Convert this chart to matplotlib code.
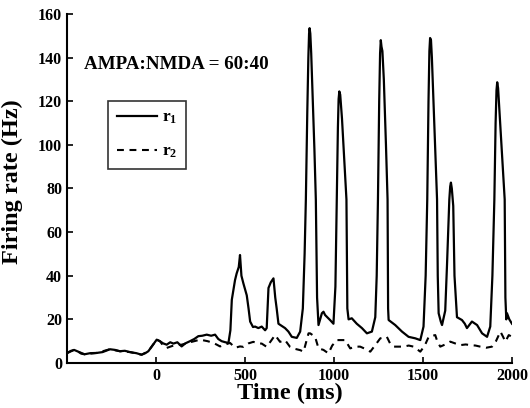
import matplotlib
matplotlib.use("Agg")
import matplotlib.pyplot as plt

plt.rcParams["font.family"] = ["Liberation Serif", "DejaVu Serif"]
plt.rcParams["font.weight"] = "bold"
plt.rcParams["mathtext.fontset"] = "custom"
plt.rcParams["mathtext.rm"] = "Liberation Serif:bold"
plt.rcParams["mathtext.it"] = "Liberation Serif:bold"
plt.rcParams["mathtext.bf"] = "Liberation Serif:bold"

# population 1 firing rate (ms, Hz)
t1 = [-500, -480, -460, -437, -420, -401, -370, -334, -300, -259, -230, -203,
      -175, -146, -110, -81, -60, -43, -20, 4, 22, 40, 60, 80, 98, 120, 144,
      165, 191, 215, 238, 260, 285, 310, 332, 350, 369, 390, 407, 418, 426,
      444, 453, 465, 472, 480, 491, 510, 520, 529, 545, 557, 575, 594, 613,
      622, 632, 645, 660, 670, 678, 688, 707, 725, 744, 763, 791, 810, 825,
      835, 842, 850, 856, 860, 863, 867, 872, 880, 890, 898, 905, 913, 932,
      941, 950, 978, 997, 1008, 1016, 1022, 1026, 1030, 1035, 1045, 1060,
      1070, 1075, 1082, 1100, 1128, 1157, 1185, 1213, 1232, 1240, 1247, 1254,
      1259, 1263, 1267, 1272, 1280, 1292, 1301, 1304, 1307, 1344, 1382, 1419,
      1457, 1485, 1503, 1515, 1524, 1531, 1536, 1540, 1545, 1550, 1560, 1570,
      1579, 1583, 1588, 1600, 1607, 1625, 1635, 1648, 1653, 1657, 1662, 1670,
      1677, 1691, 1719, 1735, 1747, 1775, 1804, 1832, 1860, 1878, 1890, 1901,
      1908, 1913, 1917, 1922, 1930, 1945, 1959, 1963, 1968, 1972, 1985, 2000]
r1 = [4.5, 5.5, 6, 5.2, 4.3, 4, 4.5, 4.6, 5, 6.3, 6, 5.4,
      5.6, 5.0, 4.5, 3.8, 4.5, 5.4, 8, 10.7, 10, 9, 8.4, 9.5, 8.9, 9.5, 7.6,
      9, 10, 11, 12.3, 12.5, 13, 12.5, 13, 11, 10, 9.5, 9.2, 15, 29,
      38, 41, 44, 49.5, 40, 36.5, 31, 25, 19, 16.5, 16.7, 16, 16.7, 15,
      16, 34.4, 37, 38.8, 30, 25, 18, 17, 16, 14.4, 12, 11.5, 14.4, 25,
      50, 75, 115, 140, 151, 153.5, 151, 142, 122, 98, 75, 30, 17.4, 22.8,
      23.5, 22, 19.7, 18, 35, 75, 108, 121, 124.5, 123, 112, 90,
      75, 25, 20, 20.5, 18, 16, 13.6, 14.4, 21, 40, 75, 120,
      142, 148, 145, 143, 130, 100, 75, 25, 19.7, 17.4, 14.4, 12,
      11.3, 10.5, 16.7, 40, 75, 120, 143, 149, 148, 140, 118, 95,
      75, 40, 22.8, 19, 17.4, 24, 45, 75, 81, 82.7, 80, 72,
      40, 21, 19.7, 18, 16, 19, 17.4, 13.6, 12, 16.7, 40, 75,
      110, 125, 128.7, 126, 115, 95, 75, 30, 20, 22.8, 20, 18]

# population 2 firing rate (ms, Hz)
t2 = [-500, -460, -401, -334, -259, -203, -146, -81, -43, 4, 22, 40, 60, 98,
      144, 191, 248, 290, 323, 360, 390, 416, 445, 472, 491, 520, 547, 570,
      594, 622, 645, 669, 697, 725, 753, 780, 810, 829, 857, 866, 894, 913,
      941, 969, 990, 1016, 1035, 1063, 1091, 1120, 1147, 1175, 1204, 1230,
      1260, 1297, 1315, 1335, 1391, 1420, 1447, 1485, 1510, 1532, 1569, 1580,
      1597, 1625, 1653, 1680, 1710, 1740, 1766, 1795, 1822, 1855, 1888, 1910,
      1935, 1950, 1963, 1982, 2000]
r2 = [4.5, 6, 4, 4.6, 6.3, 5.4, 5, 3.8, 5.4, 10.7, 10, 8, 6.9, 8,
      8.4, 9.5, 10.7, 10, 9.2, 7.6, 8.5, 9.2, 7, 7.6, 7.4, 9, 9.7, 9,
      8.9, 7.4, 10, 12.8, 9.7, 10.5, 7.4, 6.5, 5.9, 5.2, 13.6, 13.6, 12, 6.7,
      6, 4.4, 8, 10.5, 10.5, 10.5, 6.7, 7.5, 7.5, 6.5, 5.2, 8,
      11.3, 12, 9, 7.5, 7.5, 8, 7.5, 5.2, 8, 12, 12.8, 10,
      7.5, 8.5, 9.8, 9, 8.2, 8.5, 8.2, 8, 7.5, 7, 7.5, 10,
      14.4, 12, 9.8, 12.8, 12]

xticks = [0, 500, 1000, 1500, 2000]
yticks = list(range(0, 161, 20))

fig = plt.figure(figsize=(5.3, 4.08), dpi=100)
ax = fig.add_axes([0.1264, 0.1103, 0.8396, 0.8554])

ax.plot(t2, r2, color="black", lw=1.5, linestyle=(0, (3.3, 2.7)), label="r$_2$")
ax.plot(t1, r1, color="black", lw=1.6, label="r$_1$")

ax.set_xlim(-500, 2000)
ax.set_ylim(0, 160)
ax.set_xticks(xticks)
ax.set_yticks(yticks)
ax.tick_params(direction="in", length=4, width=1.2, labelsize=11.5)
for s in ["top", "right"]:
    ax.spines[s].set_visible(False)
for s in ["left", "bottom"]:
    ax.spines[s].set_linewidth(1.5)

ax.set_xlabel("Time (ms)", fontsize=17.5, fontweight="bold", labelpad=-1)
ax.set_ylabel("Firing rate (Hz)", fontsize=17.5, fontweight="bold")
ax.yaxis.set_label_coords(-0.099, 0.521)

ax.text(-405, 136.7, "AMPA:NMDA = 60:40", fontsize=13.7, fontweight="bold",
        va="center", ha="left")

handles, labels = ax.get_legend_handles_labels()
leg = ax.legend(handles[::-1], labels[::-1], loc="upper left",
                bbox_to_anchor=(0.092, 0.751), borderaxespad=0,
                fontsize=12.5, frameon=True, fancybox=False,
                edgecolor="black", handlelength=2.3, borderpad=0.5,
                labelspacing=1.0, handletextpad=0.3)
leg.get_frame().set_linewidth(1.2)

fig.savefig("out.png", dpi=100)
